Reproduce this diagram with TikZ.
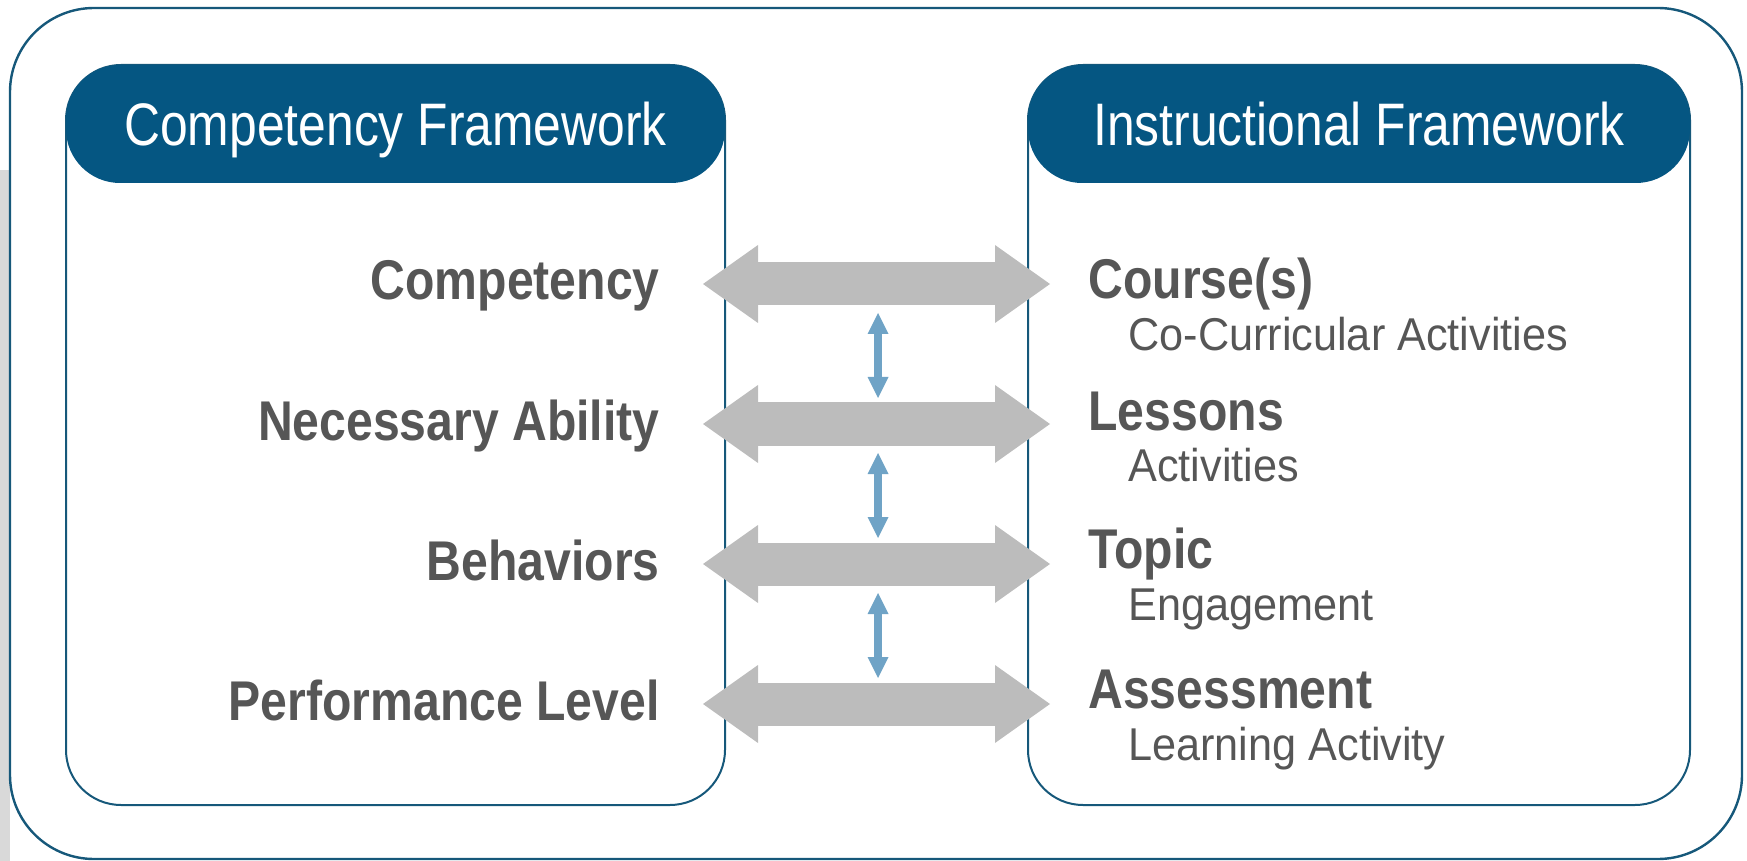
\documentclass[tikz,border=0pt]{standalone}
\usepackage{fontspec}
\usetikzlibrary{arrows.meta}
\newfontfamily\headfont[FakeStretch=0.83]{Liberation Sans}
\newfontfamily\labelfont[FakeStretch=0.86]{Liberation Sans}
\newfontfamily\subfont[FakeStretch=0.94]{Liberation Sans}
\definecolor{hdblue}{RGB}{5,86,130}
\definecolor{lineblue}{RGB}{22,88,122}
\definecolor{linkgrey}{RGB}{188,188,188}
\definecolor{stepblue}{RGB}{111,163,198}
\definecolor{txtgrey}{RGB}{86,86,86}
\tikzset{
  frame/.style={draw=lineblue, line width=1.2pt},
  panel/.style={draw=lineblue, line width=1pt, rounded corners=27.5pt, minimum height=370pt, inner sep=0pt},
  headbox/.style={fill=hdblue, text=white, rounded corners=27pt, minimum height=59pt, inner sep=0pt,
    text height=21.5pt, text depth=0pt, font=\headfont\fontsize{30}{34}\selectfont},
  lbl/.style={inner sep=0pt, text=txtgrey, font=\labelfont\bfseries\fontsize{28}{32}\selectfont},
  sublbl/.style={inner sep=0pt, text=txtgrey, font=\subfont\fontsize{23}{27}\selectfont},
  linkarrow/.style={draw=linkgrey, line width=21.5pt,
    {Triangle[length=27.5pt,width=39pt,line width=0pt]}-{Triangle[length=27.5pt,width=39pt,line width=0pt]}},
  steparrow/.style={draw=stepblue, line width=4pt,
    {Triangle[length=10.5pt,width=10.5pt,line width=0pt]}-{Triangle[length=10.5pt,width=10.5pt,line width=0pt]}}
}
\begin{document}
\begin{tikzpicture}[x=0.5pt,y=-0.5pt]
  \useasboundingbox (0,0) rectangle (1747,861);
  % photo remnant at the left edge
  \fill[gray!30] (0,170) rectangle (10,861);
  \draw[frame, rounded corners=42pt] (10,8) rectangle (1742,859);

  % the two frameworks
  \node[panel, minimum width=329.5pt] (lpanel) at (395.5,435) {};
  \node[panel, minimum width=331pt] (rpanel) at (1359,435) {};
  \node[headbox, minimum width=329.5pt] (lhead) at (395.5,124) {Competency Framework};
  \node[headbox, minimum width=331pt] (rhead) at (1359,124) {Instructional Framework};

  % competency side
  \node[lbl, anchor=base east] (comp) at (660,300) {Competency};
  \node[lbl, anchor=base east] (abil) at (660,440) {Necessary Ability};
  \node[lbl, anchor=base east] (behav) at (660,580) {Behaviors};
  \node[lbl, anchor=base east] (perf) at (660,720) {Performance Level};

  % instructional side
  \node[lbl, anchor=base west] (course) at (1088,299) {Course(s)};
  \node[sublbl, anchor=base west] (cocurr) at (1128,351) {Co-Curricular Activities};
  \node[lbl, anchor=base west] (lesson) at (1088,430) {Lessons};
  \node[sublbl, anchor=base west] (activ) at (1128,481) {Activities};
  \node[lbl, anchor=base west] (topic) at (1088,568) {Topic};
  \node[sublbl, anchor=base west] (engage) at (1128,620) {Engagement};
  \node[lbl, anchor=base west] (assess) at (1088,708) {Assessment};
  \node[sublbl, anchor=base west] (learn) at (1128,760) {Learning Activity};

  % links across
  \foreach \i/\y in {1/284,2/424,3/564,4/704} {
    \coordinate (gl\i) at (703,\y);
    \coordinate (gr\i) at (1050,\y);
    \draw[linkarrow] (gl\i) -- (gr\i);
  }
  % links between levels
  \foreach \i/\y in {1/284,2/424,3/564} {
    \coordinate (bt\i) at (878,\y+29);
    \coordinate (bb\i) at (878,\y+114);
    \draw[steparrow] (bt\i) -- (bb\i);
  }
\end{tikzpicture}
\end{document}
